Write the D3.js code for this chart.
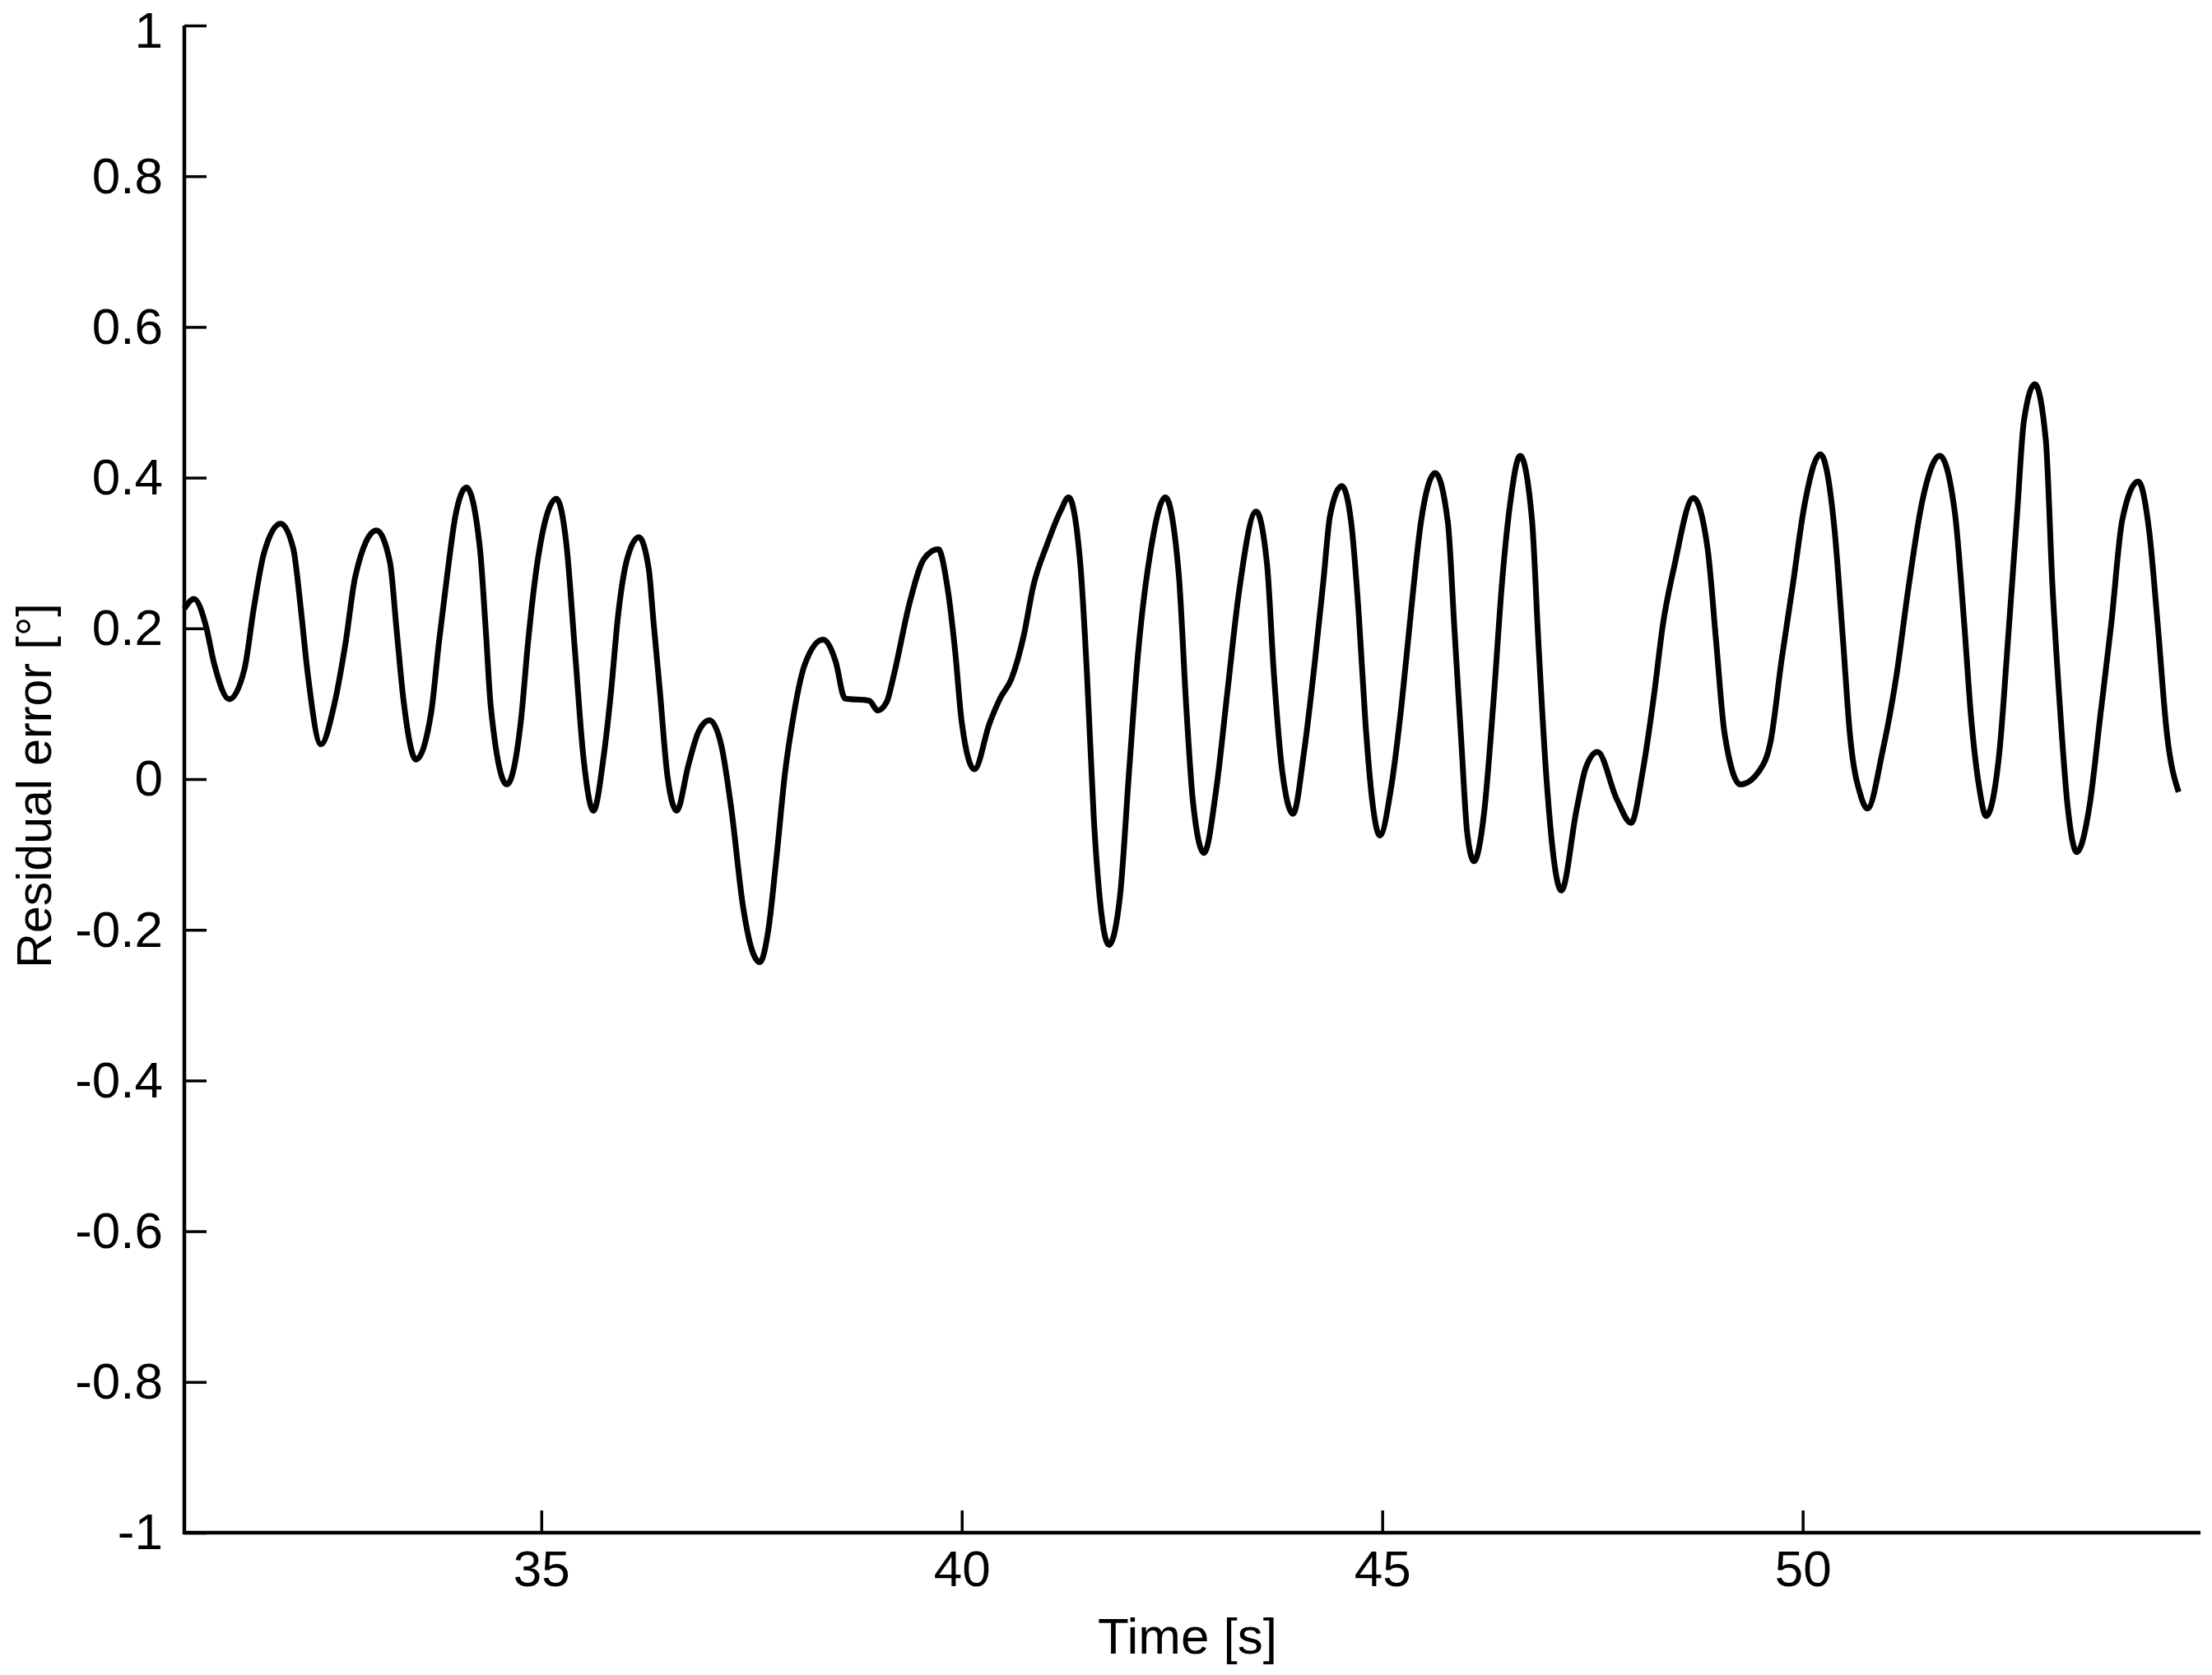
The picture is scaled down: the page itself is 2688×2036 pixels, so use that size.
<!DOCTYPE html>
<html>
<head>
<meta charset="utf-8">
<script src="https://cdn.jsdelivr.net/npm/d3@7"></script>
<style>
  html, body { margin: 0; padding: 0; background: #ffffff; }
  svg { display: block; }
  text { font-family: "Liberation Sans", Arial, sans-serif; fill: #000; }
</style>
</head>
<body>
<svg id="chart" width="2688" height="2036"></svg>
<script>
// ---- Data ----
const time = [30.755,30.87,31.01,31.11,31.29,31.47,31.58,31.70,31.90,32.05,32.14,32.22,32.38,32.53,32.67,32.79,33.04,33.20,33.28,33.36,33.51,33.69,33.78,33.88,33.98,34.11,34.27,34.34,34.40,34.59,34.76,34.84,34.95,35.18,35.30,35.40,35.50,35.62,35.74,35.83,35.91,36.02,36.16,36.28,36.33,36.41,36.50,36.61,36.75,36.87,37.00,37.14,37.26,37.40,37.50,37.60,37.70,37.80,37.90,37.99,38.13,38.35,38.50,38.61,38.90,39.00,39.11,39.19,39.38,39.55,39.72,39.83,39.92,40.00,40.15,40.33,40.46,40.59,40.74,40.85,41.01,41.18,41.27,41.41,41.49,41.57,41.66,41.75,41.88,41.99,42.09,42.25,42.42,42.58,42.67,42.75,42.88,43.03,43.16,43.29,43.50,43.63,43.71,43.81,43.94,44.07,44.19,44.30,44.38,44.52,44.63,44.72,44.80,44.89,44.97,45.11,45.23,45.34,45.46,45.63,45.78,45.86,45.94,46.01,46.09,46.21,46.32,46.43,46.52,46.64,46.78,46.86,46.95,47.13,47.31,47.42,47.56,47.79,47.96,48.10,48.23,48.34,48.47,48.70,48.87,48.97,49.07,49.26,49.49,49.62,49.75,49.88,50.02,50.21,50.38,50.48,50.56,50.69,50.77,50.95,51.11,51.26,51.42,51.63,51.81,51.92,52.00,52.10,52.18,52.34,52.44,52.55,52.63,52.76,52.89,52.97,53.05,53.15,53.26,53.41,53.54,53.67,53.80,53.99,54.12,54.22,54.33,54.47];
const residual = [0.226,0.239,0.204,0.153,0.106,0.146,0.226,0.299,0.339,0.306,0.226,0.142,0.046,0.095,0.179,0.270,0.330,0.288,0.197,0.106,0.026,0.088,0.179,0.270,0.350,0.387,0.306,0.197,0.095,-0.007,0.080,0.179,0.285,0.372,0.310,0.170,0.030,-0.042,0.029,0.117,0.214,0.292,0.321,0.277,0.214,0.117,0.004,-0.042,0.019,0.063,0.078,0.045,-0.040,-0.170,-0.225,-0.243,-0.200,-0.100,0.010,0.078,0.151,0.185,0.156,0.107,0.104,0.091,0.103,0.137,0.234,0.292,0.305,0.254,0.171,0.075,0.013,0.074,0.108,0.133,0.192,0.256,0.310,0.357,0.374,0.285,0.137,-0.052,-0.178,-0.220,-0.157,0.011,0.159,0.306,0.374,0.272,0.095,-0.031,-0.098,-0.010,0.117,0.243,0.355,0.285,0.142,0.011,-0.046,0.036,0.147,0.263,0.350,0.389,0.341,0.220,0.075,-0.037,-0.075,-0.008,0.099,0.220,0.341,0.406,0.341,0.196,0.050,-0.071,-0.109,-0.046,0.099,0.268,0.365,0.429,0.345,0.175,0.005,-0.148,-0.041,0.015,0.036,-0.027,-0.058,0.012,0.110,0.207,0.281,0.373,0.305,0.183,0.061,-0.007,0.012,0.051,0.159,0.256,0.363,0.431,0.329,0.183,0.061,-0.022,-0.039,0.037,0.134,0.256,0.368,0.429,0.353,0.207,0.085,-0.012,-0.049,0.037,0.183,0.353,0.475,0.524,0.451,0.256,0.110,-0.036,-0.097,-0.036,0.085,0.207,0.344,0.395,0.329,0.207,0.061,-0.017];
const xTicks = [35, 40, 45, 50];
const yTicks = [-1, -0.8, -0.6, -0.4, -0.2, 0, 0.2, 0.4, 0.6, 0.8, 1];
const yTickLabels = ["-1", "-0.8", "-0.6", "-0.4", "-0.2", "0", "0.2", "0.4", "0.6", "0.8", "1"];
const xLabel = "Time [s]";
const yLabel = "Residual error [°]";
const xDomain = [30.755, 54.73];
const yDomain = [-1, 1];

(function draw() {
  // ---- Layout ----
  const pLeft = 224, pRight = 2674, pTop = 31, pBottom = 1863;
  const svg = d3.select("#chart");
  svg.append("rect").attr("width", 2688).attr("height", 2036).attr("fill", "#fff");

  const x = d3.scaleLinear().domain(xDomain).range([pLeft, pRight]);
  const y = d3.scaleLinear().domain(yDomain).range([pBottom, pTop]);

  const fontSize = 62;
  const tickLen = 27;
  const ff = '"Liberation Sans", Arial, sans-serif';

  // X axis
  const xAxis = d3.axisBottom(x).tickValues(xTicks).tickSize(-tickLen).tickPadding(21).tickSizeOuter(0);
  const gx = svg.append("g").attr("transform", `translate(0,${pBottom})`).call(xAxis);
  gx.select(".domain").remove();
  gx.selectAll(".tick line").attr("stroke", "#000").attr("stroke-width", 3.5);
  gx.selectAll(".tick text").attr("font-size", fontSize).attr("font-family", ff).attr("fill", "#000");
  svg.append("line").attr("x1", pLeft - 2).attr("x2", pRight).attr("y1", pBottom).attr("y2", pBottom)
    .attr("stroke", "#000").attr("stroke-width", 4.5);

  // Y axis
  const yAxis = d3.axisLeft(y).tickValues(yTicks).tickFormat((d, i) => yTickLabels[i])
    .tickSize(-tickLen).tickPadding(26).tickSizeOuter(0);
  const gy = svg.append("g").attr("transform", `translate(${pLeft},0)`).call(yAxis);
  gy.select(".domain").remove();
  gy.selectAll(".tick line").attr("stroke", "#000").attr("stroke-width", 3.5);
  gy.selectAll(".tick text").attr("font-size", fontSize).attr("font-family", ff).attr("fill", "#000")
    .attr("dy", d => d === 1 ? "0.42em" : "0.32em");
  svg.append("line").attr("x1", pLeft).attr("x2", pLeft).attr("y1", pTop).attr("y2", pBottom + 2)
    .attr("stroke", "#000").attr("stroke-width", 4.5);

  // Line
  const data = time.map((t, i) => ({t, v: residual[i]}));
  const line = d3.line().x(d => x(d.t)).y(d => y(d.v)).curve(d3.curveMonotoneX);
  svg.append("path").datum(data).attr("d", line)
    .attr("fill", "none").attr("stroke", "#000").attr("stroke-width", 7).attr("stroke-linejoin", "round");

  // Labels
  svg.append("text").attr("x", (pLeft + pRight) / 2 - 6).attr("y", 2010)
    .attr("text-anchor", "middle").attr("font-size", fontSize).text(xLabel);
  svg.append("text").attr("transform", `translate(62,955) rotate(-90)`)
    .attr("text-anchor", "middle").attr("font-size", 59).text(yLabel);
})();
</script>
</body>
</html>
